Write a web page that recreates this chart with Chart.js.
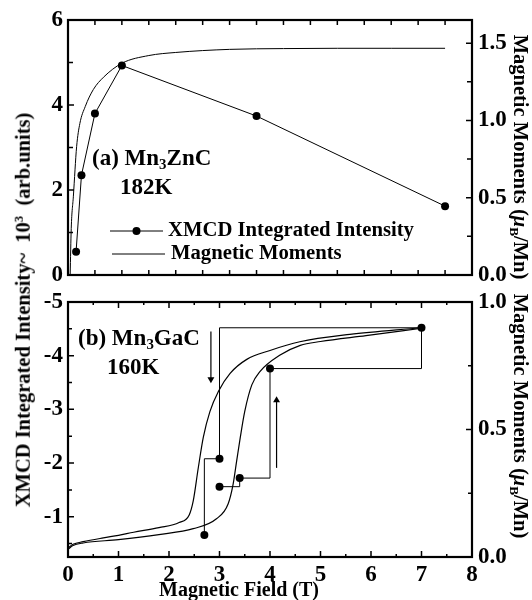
<!DOCTYPE html>
<html>
<head>
<meta charset="utf-8">
<script src="https://cdn.jsdelivr.net/npm/chart.js@4.4.1/dist/chart.umd.min.js"></script>
<style>
html,body{margin:0;padding:0;background:#fff;}
#wrap{position:relative;width:532px;height:600px;overflow:hidden;font-family:"Liberation Serif","Times New Roman",serif;font-weight:bold;color:#000;}
canvas{position:absolute;left:0;top:0;}
.t{position:absolute;white-space:nowrap;line-height:1;}
.rot{transform:translate(-50%,-50%) rotate(-90deg);}
.rotr{transform:translate(-50%,-50%) rotate(90deg);}
sub{font-size:0.65em;vertical-align:-0.3em;line-height:0;}
sup{font-size:0.62em;vertical-align:0.55em;line-height:0;}
</style>
</head>
<body>
<div id="wrap">
  <canvas id="cA" width="532" height="600"></canvas>
  <canvas id="cB" width="532" height="600"></canvas>
  <div class="t rot" style="left:23px;top:310px;font-size:20.5px;">XMCD Integrated Intensity~&nbsp; 10<sup>3</sup>&nbsp; (arb.units)</div>
  <div class="t rotr" style="left:521px;top:157px;font-size:20.5px;">Magnetic Moments (<i>μ</i><sub>B</sub>/Mn)</div>
  <div class="t rotr" style="left:521px;top:416px;font-size:20.5px;">Magnetic Moments (<i>μ</i><sub>B</sub>/Mn)</div>
  <div class="t" style="left:239px;top:579px;font-size:20px;transform:translateX(-50%);">Magnetic Field (T)</div>
  <div class="t" style="left:92px;top:146px;font-size:23px;">(a) Mn<sub>3</sub>ZnC</div>
  <div class="t" style="left:120px;top:175px;font-size:23px;">182K</div>
  <div class="t" style="left:78px;top:326px;font-size:23px;">(b) Mn<sub>3</sub>GaC</div>
  <div class="t" style="left:107px;top:355px;font-size:23px;">160K</div>
</div>
<script>
// ---------- Data: panel (a) Mn3ZnC, 182K ----------
const fieldA_xmcd = [0.15, 0.25, 0.5, 1.0, 3.5, 7.0];
const intensityA  = [0.55, 2.35, 3.8, 4.93, 3.74, 1.62];
const fieldA_mom  = [0.04, 0.06, 0.1, 0.16, 0.22, 0.32, 0.47, 0.66, 1.0, 1.5, 2.0, 3.0, 4.0, 5.0, 6.0, 7.0];
const momentA     = [0.0, 0.3, 0.51, 0.83, 0.98, 1.09, 1.2, 1.28, 1.37, 1.42, 1.44, 1.46, 1.465, 1.467, 1.467, 1.467];
const xTicksA = [];                 // top panel has no x labels
const yTicksA = [0, 2, 4, 6];
const y2TicksA = [0, 0.5, 1.0, 1.5];

// ---------- Data: panel (b) Mn3GaC, 160K ----------
const fieldB_xmcd = [2.7, 3.0, 7.0, 4.0, 3.4, 3.0];
const intensityB  = [-0.66, -2.08, -4.52, -3.76, -1.72, -1.56];
const fieldB_down = [0, 0.1, 0.3, 0.7, 1.0, 1.3, 1.8, 2.2, 2.4, 2.48, 2.58, 2.68, 2.81, 2.98, 3.21, 3.54, 4.0, 4.59, 5.58, 6.97];
const momentB_down= [0.035, 0.05, 0.06, 0.075, 0.085, 0.097, 0.115, 0.135, 0.165, 0.22, 0.35, 0.47, 0.57, 0.65, 0.72, 0.775, 0.81, 0.844, 0.873, 0.899];
const fieldB_up   = [0, 0.1, 0.3, 1.0, 1.8, 2.48, 2.94, 3.17, 3.27, 3.34, 3.41, 3.5, 3.64, 3.8, 4.2, 4.6, 5.0, 5.9, 6.97];
const momentB_up  = [0.03, 0.045, 0.055, 0.068, 0.088, 0.111, 0.15, 0.208, 0.286, 0.377, 0.467, 0.571, 0.675, 0.727, 0.792, 0.83, 0.845, 0.868, 0.896];
const arrowDownField = [2.83, 2.83];
const arrowDownInt   = [-4.45, -3.56];
const arrowUpField   = [4.13, 4.13];
const arrowUpInt     = [-1.91, -3.17];
const xTicksB  = [0, 1, 2, 3, 4, 5, 6, 7, 8];
const yTicksB  = [-5, -4, -3, -2, -1];
const y2TicksB = [0, 0.5, 1.0];

// ---------- helpers ----------
const pts = (xs, ys) => xs.map((x, i) => ({x: x, y: ys[i]}));
const tickFont = {family: 'Liberation Serif', weight: 'bold', size: 23};
const setTicks = arr => (s => { s.ticks = arr.map(v => ({value: v})); });

const frameTicks = {
  id: 'frameTicks',
  afterDatasetsDraw(chart, args, o) {
    const {ctx, chartArea: a} = chart;
    ctx.save();
    ctx.strokeStyle = '#000';
    ctx.lineWidth = 1.5;
    ctx.beginPath();
    for (const t of o.marks) {
      const s = chart.scales[t.axis];
      const lo = Math.min(s.min, s.max), hi = Math.max(s.min, s.max);
      const n0 = Math.ceil(lo / t.step - 1e-9), n1 = Math.floor(hi / t.step + 1e-9);
      for (let n = n0; n <= n1; n++) {
        const v = n * t.step;
        const r = v / t.major;
        const len = Math.abs(r - Math.round(r)) < 1e-6 ? t.majorLen : t.minorLen;
        const p = s.getPixelForValue(v);
        for (const side of t.sides) {
          if (side === 'bottom') { ctx.moveTo(p, a.bottom); ctx.lineTo(p, a.bottom - len); }
          if (side === 'top')    { ctx.moveTo(p, a.top);    ctx.lineTo(p, a.top + len); }
          if (side === 'left')   { ctx.moveTo(a.left, p);   ctx.lineTo(a.left + len, p); }
          if (side === 'right')  { ctx.moveTo(a.right, p);  ctx.lineTo(a.right - len, p); }
        }
      }
    }
    ctx.stroke();
    ctx.lineWidth = 2.2;
    ctx.strokeRect(a.left, a.top, a.width, a.height);
    ctx.restore();
  }
};

const inLegend = {
  id: 'inLegend',
  afterDraw(chart, args, o) {
    if (!o.items) return;
    const ctx = chart.ctx;
    ctx.save();
    ctx.font = o.font;
    ctx.fillStyle = '#000';
    ctx.strokeStyle = '#000';
    ctx.textBaseline = 'middle';
    for (const it of o.items) {
      const ds = chart.data.datasets[it.dataset];
      ctx.lineWidth = ds.borderWidth;
      ctx.beginPath(); ctx.moveTo(it.x0, it.y); ctx.lineTo(it.x1, it.y); ctx.stroke();
      if (ds.pointRadius > 0) {
        ctx.beginPath(); ctx.arc((it.x0 + it.x1) / 2, it.y, ds.pointRadius, 0, 2 * Math.PI); ctx.fill();
      }
      ctx.fillText(ds.label, it.tx, it.y);
    }
    ctx.restore();
  }
};

const common = {
  responsive: false,
  animation: false,
  events: [],
  plugins: {legend: {display: false}, tooltip: {enabled: false}}
};

// ---------- Chart (a) ----------
new Chart(document.getElementById('cA'), {
  type: 'line',
  data: {
    datasets: [
      {label: 'XMCD Integrated Intensity', data: pts(fieldA_xmcd, intensityA), yAxisID: 'y',
       borderColor: '#000', borderWidth: 1, pointRadius: 4, pointBackgroundColor: '#000', pointBorderWidth: 0, tension: 0},
      {label: 'Magnetic Moments', data: pts(fieldA_mom, momentA), yAxisID: 'y2',
       borderColor: '#000', borderWidth: 1, pointRadius: 0, cubicInterpolationMode: 'monotone'}
    ]
  },
  options: Object.assign({}, common, {
    layout: {padding: {top: 20, bottom: 325, left: 0, right: 0}},
    plugins: Object.assign({}, common.plugins, {
      frameTicks: {marks: [
        {axis: 'x', step: 0.5, major: 0.5, majorLen: 5, minorLen: 5, sides: ['bottom', 'top']},
        {axis: 'y', step: 1, major: 2, majorLen: 6, minorLen: 5, sides: ['left']},
        {axis: 'y2', step: 0.25, major: 0.5, majorLen: 6, minorLen: 5, sides: ['right']}
      ]},
      inLegend: {font: 'bold 20.7px "Liberation Serif"', items: [
        {dataset: 0, x0: 110, x1: 163, y: 231, tx: 168},
        {dataset: 1, x0: 112, x1: 165, y: 254, tx: 171}
      ]}
    }),
    scales: {
      x: {type: 'linear', min: 0, max: 7.5, afterBuildTicks: setTicks(xTicksA),
          ticks: {display: false}, grid: {display: false, drawTicks: false}, border: {display: false},
          afterFit: s => { s.height = 0; }},
      y: {position: 'left', min: 0, max: 6, afterBuildTicks: setTicks(yTicksA),
          ticks: {font: tickFont, color: '#000', padding: 5, callback: v => String(v)},
          grid: {display: false, drawTicks: false}, border: {display: false},
          afterFit: s => { s.width = 68; }},
      y2: {position: 'right', min: 0, max: 1.65, afterBuildTicks: setTicks(y2TicksA),
          ticks: {font: tickFont, color: '#000', padding: 6, callback: v => Number(v).toFixed(1)},
          grid: {display: false, drawTicks: false}, border: {display: false},
          afterFit: s => { s.width = 60; }}
    }
  }),
  plugins: [frameTicks, inLegend]
});

// ---------- Chart (b) ----------
new Chart(document.getElementById('cB'), {
  type: 'line',
  data: {
    datasets: [
      {label: 'XMCD Integrated Intensity', data: pts(fieldB_xmcd, intensityB), yAxisID: 'y', stepped: 'after',
       borderColor: '#000', borderWidth: 1, pointRadius: 4, pointBackgroundColor: '#000', pointBorderWidth: 0},
      {label: 'Magnetic Moments (field down)', data: pts(fieldB_down, momentB_down), yAxisID: 'y2',
       borderColor: '#000', borderWidth: 1.2, pointRadius: 0, cubicInterpolationMode: 'monotone'},
      {label: 'Magnetic Moments (field up)', data: pts(fieldB_up, momentB_up), yAxisID: 'y2',
       borderColor: '#000', borderWidth: 1.2, pointRadius: 0, cubicInterpolationMode: 'monotone'},
      {label: 'sweep down', data: pts(arrowDownField, arrowDownInt), yAxisID: 'y',
       borderColor: '#000', borderWidth: 1.2, pointRadius: [0, 4], pointStyle: 'triangle', pointRotation: [0, 180],
       pointBackgroundColor: '#000', pointBorderWidth: 0},
      {label: 'sweep up', data: pts(arrowUpField, arrowUpInt), yAxisID: 'y',
       borderColor: '#000', borderWidth: 1.2, pointRadius: [0, 4], pointStyle: 'triangle', pointRotation: [0, 0],
       pointBackgroundColor: '#000', pointBorderWidth: 0}
    ]
  },
  options: Object.assign({}, common, {
    layout: {padding: {top: 302, bottom: 0, left: 0, right: 0}},
    plugins: Object.assign({}, common.plugins, {
      frameTicks: {marks: [
        {axis: 'x', step: 0.5, major: 1, majorLen: 6, minorLen: 3, sides: ['bottom', 'top']},
        {axis: 'y', step: 0.5, major: 1, majorLen: 6, minorLen: 4, sides: ['left']},
        {axis: 'y2', step: 0.25, major: 0.5, majorLen: 6, minorLen: 4, sides: ['right']}
      ]}
    }),
    scales: {
      x: {type: 'linear', min: 0, max: 8, afterBuildTicks: setTicks(xTicksB),
          ticks: {font: tickFont, color: '#000', padding: 4, maxRotation: 0, autoSkip: false},
          grid: {display: false, drawTicks: false}, border: {display: false},
          afterFit: s => { s.height = 43; }},
      y: {position: 'left', min: -5, max: -0.25, reverse: true, afterBuildTicks: setTicks(yTicksB),
          ticks: {font: tickFont, color: '#000', padding: 5, callback: v => String(v)},
          grid: {display: false, drawTicks: false}, border: {display: false},
          afterFit: s => { s.width = 68; }},
      y2: {position: 'right', min: 0, max: 1.0, afterBuildTicks: setTicks(y2TicksB),
          ticks: {font: tickFont, color: '#000', padding: 6, callback: v => Number(v).toFixed(1)},
          grid: {display: false, drawTicks: false}, border: {display: false},
          afterFit: s => { s.width = 60; }}
    }
  }),
  plugins: [frameTicks]
});
</script>
</body>
</html>
